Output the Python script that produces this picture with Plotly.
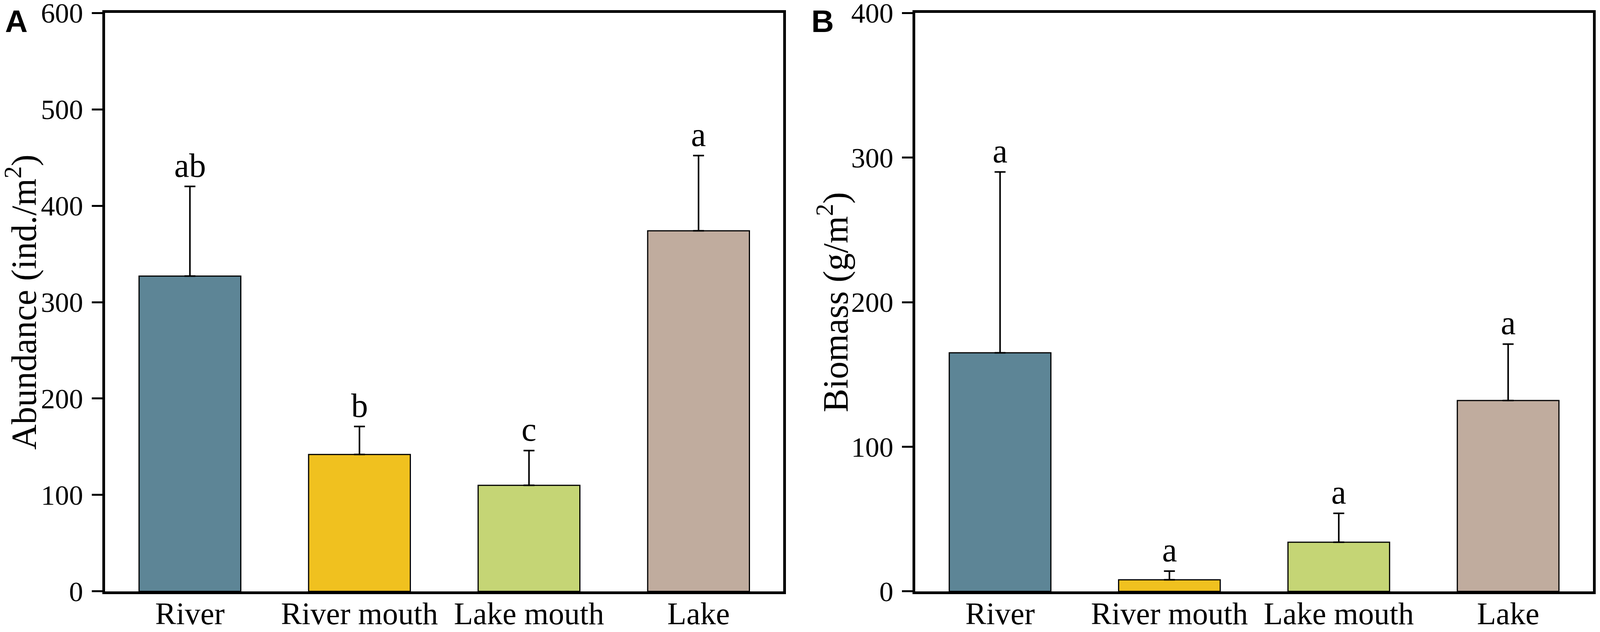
import plotly.graph_objects as go

# categories and values
categories = ["River", "River mouth", "Lake mouth", "Lake"]
bar_colors = ["#5D8596", "#F0C11F", "#C5D575", "#C0AC9E"]

abundance_mean = [327, 142, 110, 374]
abundance_err = [93, 29, 36, 78]
abundance_letters = ["ab", "b", "c", "a"]

biomass_mean = [165, 8, 34, 132]
biomass_err = [125, 6, 20, 39]
biomass_letters = ["a", "a", "a", "a"]

SERIF = "Liberation Serif"
W, H = 4080, 1611

fig = go.Figure()


def add_panel(means, errs, xref, yref):
    fig.add_trace(go.Bar(
        x=categories,
        y=means,
        width=0.6,
        marker=dict(color=bar_colors, line=dict(color="black", width=3)),
        error_y=dict(
            type="data",
            symmetric=False,
            array=errs,
            arrayminus=[0] * len(errs),
            color="black",
            thickness=4,
            width=14,
        ),
        xaxis=xref,
        yaxis=yref,
        showlegend=False,
    ))


add_panel(abundance_mean, abundance_err, "x", "y")
add_panel(biomass_mean, biomass_err, "x2", "y2")

# significance letters above the error bars
for xr, yr, means, errs, letters in [
    ("x", "y", abundance_mean, abundance_err, abundance_letters),
    ("x2", "y2", biomass_mean, biomass_err, biomass_letters),
]:
    for cat, m, e, lab in zip(categories, means, errs, letters):
        fig.add_annotation(
            x=cat, y=m + e, xref=xr, yref=yr,
            text=lab, showarrow=False,
            yanchor="bottom", yshift=4,
            font=dict(family=SERIF, size=86, color="black"),
        )

# panel letters
for px, lab in [(0.0008, "A"), (0.5066, "B")]:
    fig.add_annotation(x=px, y=1.0, xref="paper", yref="paper", text="<b>%s</b>" % lab,
                       showarrow=False, xanchor="left", yanchor="top",
                       font=dict(family="Liberation Sans", size=80, color="black"))

# y axis titles
for px, title in [(0.02600, "Abundance (ind./m<sup>2</sup>)"),
                  (0.53530, "Biomass (g/m<sup>2</sup>)")]:
    fig.add_annotation(x=px, y=0.5245, xref="paper", yref="paper", text=title,
                       textangle=-90, showarrow=False, xanchor="right", yanchor="middle",
                       font=dict(family=SERIF, size=90, color="black"))

xaxis_style = dict(
    showline=True, linewidth=7, linecolor="black", mirror=True,
    ticks="", showgrid=False, zeroline=False,
    tickfont=dict(family=SERIF, size=80, color="black"),
    ticklabelstandoff=-19,
)
yaxis_style = dict(
    showline=True, linewidth=7, linecolor="black", mirror=True,
    ticks="outside", ticklen=27, tickwidth=5, tickcolor="black",
    showgrid=False, zeroline=False, dtick=100,
    tickfont=dict(family=SERIF, size=72, color="black"),
    ticklabelstandoff=8, ticklabeloverflow="allow",
)

fig.update_layout(
    width=W,
    height=H,
    margin=dict(l=0, r=0, t=0, b=0, autoexpand=False),
    paper_bgcolor="white",
    plot_bgcolor="white",
    xaxis=dict(domain=[0.06402, 0.48953], anchor="y", **xaxis_style),
    xaxis2=dict(domain=[0.57240, 0.99745], anchor="y2", **xaxis_style),
    yaxis=dict(domain=[0.06456, 0.98448], anchor="x", range=[0, 600], **yaxis_style),
    yaxis2=dict(domain=[0.06456, 0.98448], anchor="x2", range=[0, 400], **yaxis_style),
)

fig.write_html("out.html")
